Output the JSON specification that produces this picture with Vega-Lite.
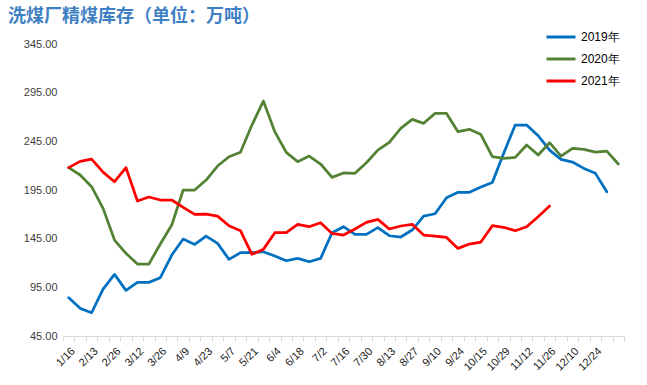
{
  "$schema": "https://vega.github.io/schema/vega-lite/v6.json",
  "width": 561,
  "height": 292,
  "autosize": {"type": "none"},
  "padding": {"left": 63, "top": 44, "right": 23, "bottom": 49},
  "background": "white",
  "title": {
    "text": "洗煤厂精煤库存（单位：万吨）",
    "anchor": "start",
    "frame": "group",
    "dx": -55,
    "offset": -5,
    "font": "Noto Sans CJK SC",
    "fontSize": 18,
    "fontWeight": "bold",
    "color": "#3F7FC4"
  },
  "config": {"view": {"stroke": null}},
  "data": {
    "values": [
      {"d": "1/16", "2019年": 84.3, "2020年": 218, "2021年": 218},
      {"d": "1/23", "2019年": 73.4, "2020年": 210.4, "2021年": 224.4},
      {"d": "2/13", "2019年": 68.9, "2020年": 198.4, "2021年": 226.8},
      {"d": "2/19", "2019年": 93.2, "2020年": 176.1, "2021年": 213.4},
      {"d": "2/26", "2019年": 108.3, "2020年": 143.6, "2021年": 203.5},
      {"d": "3/5", "2019年": 91.9, "2020年": 129.9, "2021年": 218},
      {"d": "3/12", "2019年": 100.1, "2020年": 118.9, "2021年": 183.7},
      {"d": "3/19", "2019年": 100.1, "2020年": 118.9, "2021年": 187.8},
      {"d": "3/26", "2019年": 104.9, "2020年": 139.5, "2021年": 184.7},
      {"d": "4/2", "2019年": 128.2, "2020年": 159, "2021年": 184.7},
      {"d": "4/9", "2019年": 144.6, "2020年": 195, "2021年": 177.1},
      {"d": "4/16", "2019年": 139.1, "2020年": 195, "2021年": 170},
      {"d": "4/23", "2019年": 147.7, "2020年": 205.2, "2021年": 170.3},
      {"d": "4/30", "2019年": 140.2, "2020年": 219.6, "2021年": 168.2},
      {"d": "5/7", "2019年": 123.7, "2020年": 229.2, "2021年": 158.3},
      {"d": "5/14", "2019年": 130.6, "2020年": 233.7, "2021年": 153.2},
      {"d": "5/21", "2019年": 130.6, "2020年": 261.7, "2021年": 128.9},
      {"d": "5/28", "2019年": 131.6, "2020年": 286.4, "2021年": 134},
      {"d": "6/4", "2019年": 127.1, "2020年": 254.9, "2021年": 151.1},
      {"d": "6/11", "2019年": 122.3, "2020年": 233.7, "2021年": 151.1},
      {"d": "6/18", "2019年": 124.7, "2020年": 224.1, "2021年": 159.7},
      {"d": "6/25", "2019年": 121.3, "2020年": 229.9, "2021年": 157.3},
      {"d": "7/2", "2019年": 124.7, "2020年": 221.7, "2021年": 161.4},
      {"d": "7/9", "2019年": 151.1, "2020年": 208, "2021年": 150.4},
      {"d": "7/16", "2019年": 157.3, "2020年": 212.5, "2021年": 148.7},
      {"d": "7/23", "2019年": 149.4, "2020年": 212.1, "2021年": 154.9},
      {"d": "7/30", "2019年": 149.4, "2020年": 223, "2021年": 161.7},
      {"d": "8/6", "2019年": 156.3, "2020年": 236, "2021年": 164.8},
      {"d": "8/13", "2019年": 148, "2020年": 243.9, "2021年": 154.9},
      {"d": "8/20", "2019年": 146.7, "2020年": 258.3, "2021年": 158},
      {"d": "8/27", "2019年": 153.9, "2020年": 267.6, "2021年": 159.7},
      {"d": "9/3", "2019年": 168.2, "2020年": 263.5, "2021年": 148.7},
      {"d": "9/10", "2019年": 170.6, "2020年": 273.7, "2021年": 147.7},
      {"d": "9/17", "2019年": 187.1, "2020年": 273.7, "2021年": 146.3},
      {"d": "9/24", "2019年": 192.6, "2020年": 254.9, "2021年": 135},
      {"d": "10/8", "2019年": 192.6, "2020年": 257.3, "2021年": 139.5},
      {"d": "10/15", "2019年": 198, "2020年": 252, "2021年": 141.5},
      {"d": "10/22", "2019年": 202.7, "2020年": 229.2, "2021年": 158.3},
      {"d": "10/29", "2019年": 233, "2020年": 227.5, "2021年": 156.6},
      {"d": "11/5", "2019年": 261.7, "2020年": 228.5, "2021年": 153.2},
      {"d": "11/12", "2019年": 261.7, "2020年": 241.2, "2021年": 157.3},
      {"d": "11/19", "2019年": 250.8, "2020年": 230.9, "2021年": 167.6},
      {"d": "11/26", "2019年": 236, "2020年": 243.6, "2021年": 178.5},
      {"d": "12/3", "2019年": 226.5, "2020年": 229.9},
      {"d": "12/10", "2019年": 223.7, "2020年": 237.8},
      {"d": "12/17", "2019年": 217.2, "2020年": 236.7},
      {"d": "12/24", "2019年": 212.1, "2020年": 234},
      {"d": "12/31", "2019年": 193.2, "2020年": 235},
      {"d": "1/7", "2020年": 221.7}
    ]
  },
  "transform": [
    {"fold": ["2019年", "2020年", "2021年"], "as": ["series", "value"]},
    {"filter": "isValid(datum.value)"}
  ],
  "mark": {"type": "line", "strokeWidth": 2.75, "strokeJoin": "round", "strokeCap": "round"},
  "encoding": {
    "x": {
      "field": "d",
      "type": "ordinal",
      "bandPosition": 0.5,
      "sort": ["1/16","1/23","2/13","2/19","2/26","3/5","3/12","3/19","3/26","4/2","4/9","4/16","4/23","4/30","5/7","5/14","5/21","5/28","6/4","6/11","6/18","6/25","7/2","7/9","7/16","7/23","7/30","8/6","8/13","8/20","8/27","9/3","9/10","9/17","9/24","10/8","10/15","10/22","10/29","11/5","11/12","11/19","11/26","12/3","12/10","12/17","12/24","12/31","1/7"],
      "scale": {"type": "band", "paddingInner": 0, "paddingOuter": 0},
      "axis": {
        "title": null,
        "labelAngle": -45,
        "labelFont": "Liberation Sans",
        "labelFontSize": 11,
        "labelColor": "#1a1a1a",
        "labelPadding": 4,
        "labelExpr": "indexof(['1/16','2/13','2/26','3/12','3/26','4/9','4/23','5/7','5/21','6/4','6/18','7/2','7/16','7/30','8/13','8/27','9/10','9/24','10/15','10/29','11/12','11/26','12/10','12/24'], datum.value) >= 0 ? datum.label : ''",
        "labelOverlap": false,
        "domainColor": "#d9d9d9",
        "tickColor": "#d9d9d9",
        "tickSize": 5,
        "tickBand": "extent",
        "grid": false
      }
    },
    "y": {
      "field": "value",
      "type": "quantitative",
      "scale": {"domain": [45, 345], "nice": false, "zero": false},
      "axis": {
        "title": null,
        "values": [45, 95, 145, 195, 245, 295, 345],
        "format": ".2f",
        "domain": false,
        "ticks": false,
        "grid": false,
        "labelFont": "Liberation Sans",
        "labelFontSize": 11,
        "labelColor": "#404040",
        "labelPadding": 6
      }
    },
    "color": {
      "field": "series",
      "type": "nominal",
      "scale": {"domain": ["2019年", "2020年", "2021年"], "range": ["#0070C0", "#548235", "#FF0000"]},
      "legend": {
        "title": null,
        "orient": "none",
        "legendX": 482,
        "legendY": -23,
        "symbolType": "stroke",
        "symbolSize": 841,
        "symbolStrokeWidth": 3,
        "rowPadding": -7,
        "labelFont": "Liberation Sans",
        "labelFontSize": 12,
        "labelColor": "#000000",
        "labelOffset": 4
      }
    }
  }
}
